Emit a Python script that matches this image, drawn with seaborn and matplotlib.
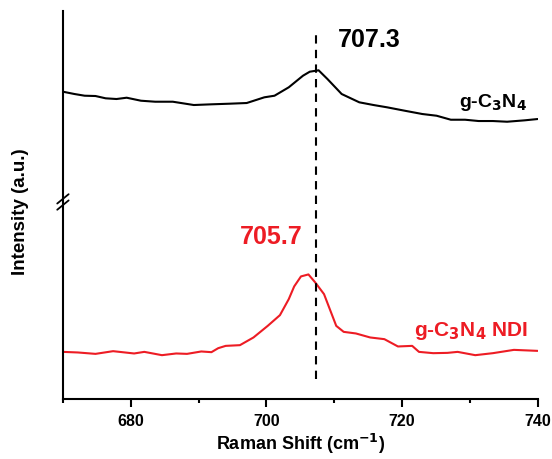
import numpy as np
import pandas as pd
import matplotlib
matplotlib.use("Agg")
import matplotlib.pyplot as plt
import seaborn as sns

# --- Settings ---
sns.set_style("white")
plt.rcParams["font.family"] = ["Liberation Sans", "DejaVu Sans"]
plt.rcParams["font.weight"] = "bold"
plt.rcParams["text.color"] = "black"
plt.rcParams["axes.labelcolor"] = "black"
plt.rcParams["xtick.color"] = "black"

# --- Data (intensity in arbitrary units) ---
gcn_shift = [670.0, 671.7, 673.2, 674.8, 676.3, 677.9, 679.4, 681.5, 683.6, 686.2,
             689.3, 691.9, 694.5, 697.1, 699.7, 701.2, 703.3, 705.4, 706.4, 707.7,
             709.0, 711.1, 713.7, 715.8, 717.8, 720.4, 723.0, 725.1, 727.2, 729.3,
             731.3, 733.4, 735.5, 738.1, 740.0]
gcn_int = [307.3, 305.0, 303.3, 303.0, 300.7, 300.0, 301.3, 298.3, 297.3, 297.3,
           294.0, 294.7, 295.3, 296.0, 301.7, 303.3, 311.7, 323.3, 327.3, 328.7,
           320.0, 305.0, 296.7, 294.0, 291.7, 288.3, 285.0, 283.3, 279.3, 279.3,
           278.0, 278.0, 277.3, 278.7, 280.0]

ndi_shift = [670.0, 672.2, 674.8, 677.4, 680.5, 682.0, 684.6, 686.7, 688.3, 690.4,
             691.9, 692.9, 694.0, 696.1, 698.1, 700.2, 702.0, 703.3, 704.1, 705.1,
             706.2, 707.2, 708.5, 710.3, 711.4, 713.2, 715.3, 717.4, 719.4, 721.5,
             722.5, 724.6, 726.7, 728.2, 730.8, 733.4, 736.5, 740.0]
ndi_int = [47.3, 46.7, 45.3, 48.0, 45.7, 47.3, 44.0, 45.7, 45.3, 47.7,
           47.0, 51.0, 53.3, 54.0, 61.7, 73.3, 84.0, 100.0, 112.7, 122.7,
           124.7, 116.7, 105.0, 73.3, 67.3, 65.7, 61.7, 60.0, 52.7, 53.3,
           47.3, 46.0, 46.3, 47.3, 44.0, 46.0, 49.3, 48.3]

peak_gcn = 707.3
peak_ndi = 705.7
red = "#ED1C24"

df_gcn = pd.DataFrame({"shift": gcn_shift, "intensity": gcn_int})
df_ndi = pd.DataFrame({"shift": ndi_shift, "intensity": ndi_int})

fig = plt.figure(figsize=(5.52, 4.6), dpi=100)
ax = fig.add_axes([0.114, 0.130, 0.860, 0.844])

sns.lineplot(data=df_gcn, x="shift", y="intensity", ax=ax, color="black", linewidth=1.5)
sns.lineplot(data=df_ndi, x="shift", y="intensity", ax=ax, color=red, linewidth=1.5)

# dashed marker at the g-C3N4 peak
ax.plot([peak_gcn, peak_gcn], [20, 368], color="black", linestyle=(0, (4, 3)), linewidth=1.5)

ax.set_xlim(670, 740)
ax.set_ylim(0, 388)
ax.set_xticks([680, 700, 720, 740])
ax.set_xticks([670, 690, 710, 730], minor=True)
ax.set_yticks([])
ax.tick_params(axis="x", which="major", direction="out", length=6, width=1.5,
               labelsize=11.5, pad=4, bottom=True, colors="black")
ax.tick_params(axis="x", which="minor", direction="out", length=3, width=1.5,
               bottom=True, colors="black")
for lab in ax.get_xticklabels():
    lab.set_fontweight("bold")

for side in ["top", "right"]:
    ax.spines[side].set_visible(False)
for side in ["left", "bottom"]:
    ax.spines[side].set_linewidth(1.5)
    ax.spines[side].set_color("black")

ax.set_xlabel("Raman Shift (cm$^{\\mathbf{-1}}$)", fontsize=13, fontweight="bold", labelpad=2)
ax.set_ylabel("Intensity (a.u.)", fontsize=13.5, fontweight="bold")
ax.yaxis.set_label_coords(-0.072, 0.485)

# axis break marks
kw = dict(transform=ax.transAxes, color="black", clip_on=False, linewidth=1.3)
for dy in (-0.008, 0.008):
    ax.plot([-0.012, 0.012], [0.508 + dy - 0.012, 0.508 + dy + 0.012], **kw)

ax.text(710.5, 360, "707.3", fontsize=18, fontweight="bold", color="black", va="center")
ax.text(705.4, 163, "705.7", fontsize=18, fontweight="bold", color=red, va="center", ha="right")
ax.text(738.4, 298, "g-C$_\\mathbf{3}$N$_\\mathbf{4}$", fontsize=14, fontweight="bold",
        color="black", ha="right", va="center")
ax.text(738.6, 69, "g-C$_\\mathbf{3}$N$_\\mathbf{4}$ NDI", fontsize=15, fontweight="bold",
        color=red, ha="right", va="center")

fig.savefig("out.png", dpi=100)
